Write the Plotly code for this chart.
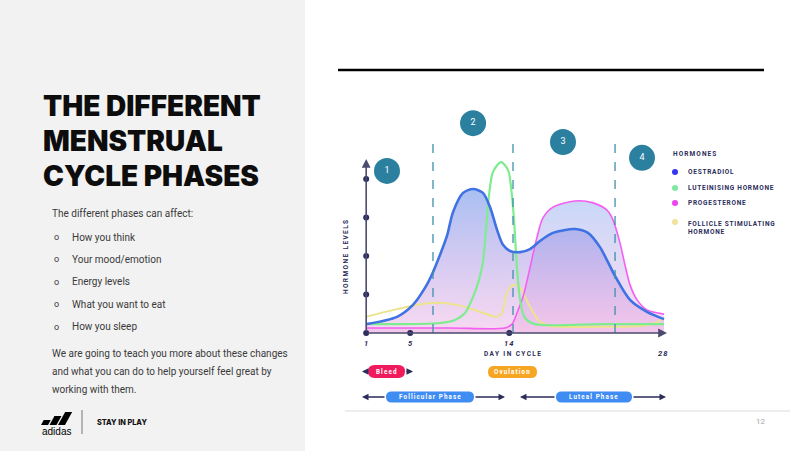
import plotly.graph_objects as go

W, H = 800, 451


def PX(x):
    return x / W


def PY(y):
    return 1 - y / H


# ---------------- data ----------------
DAY_TICKS = [1, 5, 14, 28]
DAY_TICK_LABELS = ["1", "5", "14", "28"]
LEVEL_DOTS = [1, 2, 3, 4]
AXIS_DAY_DOTS = [1, 5, 14]

PHASE_BOUNDARIES = [7.07, 14.34, 23.61]
PHASE_NUMBERS = ["1", "2", "3", "4"]
PHASE_BADGE_DAY = [2.89, 10.71, 18.88, 26.06]
PHASE_BADGE_LEVEL = [4.21, 5.45, 4.96, 4.55]

OESTRADIOL_DAY = [1.0, 3.8, 5.25, 6.34, 7.07, 7.71, 8.34, 8.89, 9.8, 10.71, 11.61, 12.25, 12.89,
                  13.43, 14.07, 14.98, 15.88, 16.79, 17.97, 19.97, 21.15, 22.24, 22.97, 23.61,
                  24.97, 26.51, 28.06]
OESTRADIOL_LEVEL = [0.23, 0.42, 0.73, 1.17, 1.58, 2.03, 2.52, 3.14, 3.64, 3.74, 3.64, 3.27, 2.68,
                    2.29, 2.13, 2.10, 2.18, 2.39, 2.60, 2.70, 2.60, 2.23, 1.84, 1.48,
                    0.86, 0.55, 0.36]

LH_DAY = [1.0, 4.07, 7.71, 9.07, 9.98, 10.71, 11.25, 11.61, 11.89, 12.16, 12.52, 13.25, 13.89,
          14.16, 14.43, 14.70, 14.98, 15.43, 16.34, 22.24, 28.06]
LH_LEVEL = [0.23, 0.23, 0.26, 0.34, 0.52, 0.94, 1.38, 1.84, 2.68, 3.58, 4.18, 4.44, 4.23,
            3.79, 2.94, 1.69, 0.86, 0.39, 0.23, 0.23, 0.23]

PROG_DAY = [1.0, 8.62, 13.61, 14.25, 14.70, 15.25, 15.88, 16.52, 17.06, 17.97, 19.97, 21.61,
            22.88, 23.42, 24.06, 24.51, 24.97, 25.61, 26.51, 28.06]
PROG_LEVEL = [0.13, 0.13, 0.13, 0.23, 0.52, 0.94, 1.69, 2.49, 2.99, 3.27, 3.43, 3.38,
              3.19, 2.94, 2.34, 1.77, 1.25, 0.86, 0.60, 0.49]

FSH_DAY = [1.0, 3.80, 6.80, 9.25, 11.34, 12.89, 13.34, 13.79, 14.34, 14.98, 15.88, 16.79,
           17.70, 22.24, 25.88, 27.24, 28.06]
FSH_LEVEL = [0.42, 0.62, 0.78, 0.73, 0.55, 0.42, 0.52, 1.06, 1.25, 1.17, 0.68, 0.29,
             0.18, 0.16, 0.18, 0.26, 0.39]

LEGEND_TITLE = "HORMONES"
LEGEND_NAMES = ["OESTRADIOL", "LUTEINISING HORMONE", "PROGESTERONE",
                "FOLLICLE STIMULATING<br>HORMONE"]
LEGEND_COLORS = ["#3636ee", "#7fe9a0", "#f142f0", "#efe39e"]

TITLE_LINES = ["THE DIFFERENT", "MENSTRUAL", "CYCLE PHASES"]
INTRO = "The different phases can affect:"
BULLETS = ["How you think", "Your mood/emotion", "Energy levels",
           "What you want to eat", "How you sleep"]
OUTRO = ["We are going to teach you more about these changes",
         "and what you can do to help yourself feel great by",
         "working with them."]

NAVY = "#2b2d5a"
TEAL = "#2b809f"
BLUE = "#3f72e2"
GREEN = "#7eec8f"
PINK = "#f35ff0"
YELLOW = "#ece38c"


def ls(text, sp):
    return '<span style="letter-spacing:%spx">%s</span>' % (sp, text)


fig = go.Figure()

# fills
fig.add_trace(go.Scatter(
    x=PROG_DAY, y=PROG_LEVEL, mode="lines", line=dict(width=0, shape="spline", smoothing=0.8),
    fill="tozeroy",
    fillgradient=dict(type="vertical", start=0, stop=3.5,
                      colorscale=[[0, "rgba(248,200,236,0.6)"], [1, "rgba(180,202,245,0.75)"]]),
    hoverinfo="skip", showlegend=False))
fig.add_trace(go.Scatter(
    x=OESTRADIOL_DAY, y=OESTRADIOL_LEVEL, mode="lines",
    line=dict(width=0, shape="spline", smoothing=0.8),
    fill="tozeroy",
    fillgradient=dict(type="vertical", start=0, stop=3.75,
                      colorscale=[[0, "rgba(236,165,222,0.42)"], [0.5, "rgba(170,150,228,0.5)"],
                                  [1, "rgba(118,155,236,0.64)"]]),
    hoverinfo="skip", showlegend=False))

# lines
for xs, ys, col, wd in [(FSH_DAY, FSH_LEVEL, YELLOW, 2.0),
                        (PROG_DAY, PROG_LEVEL, PINK, 1.6),
                        (LH_DAY, LH_LEVEL, GREEN, 2.2),
                        (OESTRADIOL_DAY, OESTRADIOL_LEVEL, BLUE, 2.6)]:
    fig.add_trace(go.Scatter(x=xs, y=ys, mode="lines",
                             line=dict(color=col, width=wd, shape="spline", smoothing=0.8),
                             hoverinfo="skip", showlegend=False))

# axis dots
fig.add_trace(go.Scatter(
    x=[DAY_TICKS[0]] * len(LEVEL_DOTS) + AXIS_DAY_DOTS,
    y=LEVEL_DOTS + [0] * len(AXIS_DAY_DOTS),
    mode="markers", marker=dict(color=NAVY, size=6), hoverinfo="skip", showlegend=False,
    cliponaxis=False))

# phase badges
fig.add_trace(go.Scatter(
    x=PHASE_BADGE_DAY, y=PHASE_BADGE_LEVEL, mode="markers+text", text=PHASE_NUMBERS,
    textposition="middle center", textfont=dict(color="white", size=9, family="Roboto"),
    marker=dict(color=TEAL, size=26, line=dict(width=0)), hoverinfo="skip", showlegend=False,
    cliponaxis=False))

shapes = []
ann = []

# left panel
shapes.append(dict(type="rect", xref="paper", yref="paper", x0=0, x1=PX(305), y0=0, y1=1,
                   fillcolor="#f2f2f2", line=dict(width=0), layer="below"))
# top black rule
shapes.append(dict(type="line", xref="paper", yref="paper", x0=PX(338), x1=PX(764),
                   y0=PY(70), y1=PY(70), line=dict(color="black", width=2.5)))
# bottom grey rule
shapes.append(dict(type="line", xref="paper", yref="paper", x0=PX(345), x1=PX(790),
                   y0=PY(411), y1=PY(411), line=dict(color="#dcdcdc", width=1)))

# phase boundary dashed lines
for b in PHASE_BOUNDARIES:
    shapes.append(dict(type="line", xref="x", yref="y", x0=b, x1=b, y0=0, y1=5.14,
                       line=dict(color="#3f8fab", width=1.3, dash="dash"), layer="above"))

# axes with arrows
ann.append(dict(x=DAY_TICKS[0], y=4.52, ax=DAY_TICKS[0], ay=0, xref="x", yref="y",
                axref="x", ayref="y", text="", showarrow=True, arrowhead=2, arrowsize=1.1,
                arrowwidth=1.6, arrowcolor="#4a4b6e", standoff=0))
ann.append(dict(x=28.33, y=0, ax=DAY_TICKS[0], ay=0, xref="x", yref="y",
                axref="x", ayref="y", text="", showarrow=True, arrowhead=2, arrowsize=1.1,
                arrowwidth=1.6, arrowcolor="#4a4b6e", standoff=0))

# tick labels
for d, t in zip(DAY_TICKS, DAY_TICK_LABELS):
    ann.append(dict(x=d, y=-0.26 if t != "28" else -0.52, xref="x", yref="y",
                    text=ls("<i>%s</i>" % t, 1),
                    showarrow=False, font=dict(size=7.5, color=NAVY, family="Roboto", weight=700)))

ann.append(dict(x=PX(513), y=PY(354), xref="paper", yref="paper", text=ls("DAY IN CYCLE", 1.4),
                showarrow=False, font=dict(size=6.5, color=NAVY, family="Roboto", weight=700)))
ann.append(dict(x=PX(346), y=PY(257), xref="paper", yref="paper", text=ls("HORMONE LEVELS", 1.4),
                textangle=-90, showarrow=False,
                font=dict(size=6.5, color=NAVY, family="Roboto", weight=700)))

# legend
ann.append(dict(x=PX(671), y=PY(154), xref="paper", yref="paper", xanchor="left",
                text=ls(LEGEND_TITLE, 1.1), showarrow=False,
                font=dict(size=6.5, color=NAVY, family="Roboto", weight=700)))
leg_y = [172, 188, 203, 222]
for name, col, yy in zip(LEGEND_NAMES, LEGEND_COLORS, leg_y):
    shapes.append(dict(type="circle", xref="paper", yref="paper", x0=PX(672), x1=PX(678),
                       y0=PY(yy + 3), y1=PY(yy - 3), fillcolor=col, line=dict(width=0)))
    two = "<br>" in name
    ann.append(dict(x=PX(686), y=PY(yy - 4 if two else yy), xref="paper",
                    yref="paper", xanchor="left", yanchor="top" if two else "middle", align="left",
                    text="<br>".join(ls(p, 0.75) for p in name.split("<br>")), showarrow=False,
                    font=dict(size=6.5, color=NAVY, family="Roboto", weight=700)))


# pills and arrows
def pill(cx, cy, w, h, color):
    r = h / 2
    x0, x1, y0, y1 = cx - w / 2, cx + w / 2, cy - h / 2, cy + h / 2
    pts = [("M", x0 + r, y0), ("L", x1 - r, y0), ("Q", x1, y0, x1, cy), ("Q", x1, y1, x1 - r, y1),
           ("L", x0 + r, y1), ("Q", x0, y1, x0, cy), ("Q", x0, y0, x0 + r, y0)]
    s = ""
    for p in pts:
        cmd = p[0]
        vals = p[1:]
        coords = []
        for i in range(0, len(vals), 2):
            coords.append("%.5f,%.5f" % (PX(vals[i]), PY(vals[i + 1])))
        s += cmd + " " + " ".join(coords) + " "
    s += "Z"
    return dict(type="path", xref="paper", yref="paper", path=s, fillcolor=color,
                line=dict(width=0))


def arrow(head_x, tail_x, y):
    return dict(x=PX(head_x), y=PY(y), xref="paper", yref="paper", ax=tail_x - head_x, ay=0,
                text="", showarrow=True, arrowhead=2, arrowsize=1, arrowwidth=1.3,
                arrowcolor=NAVY, standoff=0)


PILLS = [("Bleed", 386.5, 371.5, 37, 13, "#ef1b5c"),
         ("Ovulation", 512.5, 372, 49, 12, "#f7a624"),
         ("Follicular Phase", 430, 397, 88, 11, "#3f8cf2"),
         ("Luteal Phase", 594, 397, 76, 11, "#3f8cf2")]
for label, cx, cy, w, h, col in PILLS:
    shapes.append(pill(cx, cy, w, h, col))
    ann.append(dict(x=PX(cx), y=PY(cy), xref="paper", yref="paper", text=ls(label, 1.1),
                    showarrow=False,
                    font=dict(size=6.3, color="white", family="Roboto", weight=700)))
ann.append(arrow(362, 368, 371.5))
ann.append(arrow(413, 405, 371.5))
ann.append(arrow(362, 386, 397))
ann.append(arrow(505, 474, 397))
ann.append(arrow(520, 556, 397))
ann.append(arrow(666, 632, 397))

# left panel texts
for i, line in enumerate(TITLE_LINES):
    ann.append(dict(x=PX(41), y=PY(106 + 35 * i), xref="paper", yref="paper", xanchor="left",
                    text=line, showarrow=False,
                    font=dict(size=28, color="#0d0d0d", family="Inter", weight=900)))
body_font = dict(size=10, color="#3a3a3a", family="Roboto")
ann.append(dict(x=PX(50), y=PY(213), xref="paper", yref="paper", xanchor="left", text=INTRO,
                showarrow=False, font=body_font))
for i, b in enumerate(BULLETS):
    yy = 237 + 22.4 * i
    ann.append(dict(x=PX(52), y=PY(yy), xref="paper", yref="paper", xanchor="left", text="o",
                    showarrow=False, font=dict(size=9, color="#3a3a3a", family="Roboto")))
    ann.append(dict(x=PX(70), y=PY(yy), xref="paper", yref="paper", xanchor="left", text=b,
                    showarrow=False, font=body_font))
for i, line in enumerate(OUTRO):
    ann.append(dict(x=PX(50), y=PY(353 + 18 * i), xref="paper", yref="paper", xanchor="left",
                    text=line, showarrow=False, font=body_font))

# adidas logo
for bx, hgt in [(41, 5), (49.5, 9), (58, 13)]:
    s = 0.55
    pts = [(bx, 425), (bx + 7, 425), (bx + 7 + s * hgt, 425 - hgt), (bx + s * hgt, 425 - hgt)]
    path = "M " + " L ".join("%.5f,%.5f" % (PX(a), PY(b)) for a, b in pts) + " Z"
    shapes.append(dict(type="path", xref="paper", yref="paper", path=path, fillcolor="black",
                       line=dict(width=0)))
ann.append(dict(x=PX(57), y=PY(431), xref="paper", yref="paper", text="adidas", showarrow=False,
                font=dict(size=10, color="black", family="Liberation Sans")))
shapes.append(dict(type="line", xref="paper", yref="paper", x0=PX(82), x1=PX(82), y0=PY(410),
                   y1=PY(434), line=dict(color="#777777", width=1)))
ann.append(dict(x=PX(95), y=PY(422), xref="paper", yref="paper", xanchor="left",
                text="STAY IN PLAY", showarrow=False,
                font=dict(size=7.3, color="#111111", family="Inter", weight=800)))
ann.append(dict(x=PX(760), y=PY(421), xref="paper", yref="paper", text="12", showarrow=False,
                font=dict(size=8, color="#a6a6a6", family="Roboto")))

for a in ann:
    a.setdefault("xanchor", "center")
    a.setdefault("yanchor", "middle")

fig.update_layout(
    width=W, height=H, margin=dict(l=0, r=0, t=0, b=0, pad=0),
    paper_bgcolor="white", plot_bgcolor="rgba(0,0,0,0)",
    xaxis=dict(domain=[340 / W, 680 / W], range=[-1.378, 29.511], visible=False,
               fixedrange=True),
    yaxis=dict(domain=[1 - 360 / H, 1 - 100 / H], range=[-0.7013, 6.0519], visible=False,
               fixedrange=True),
    shapes=shapes, annotations=ann, showlegend=False,
)

fig.write_html("out.html")
